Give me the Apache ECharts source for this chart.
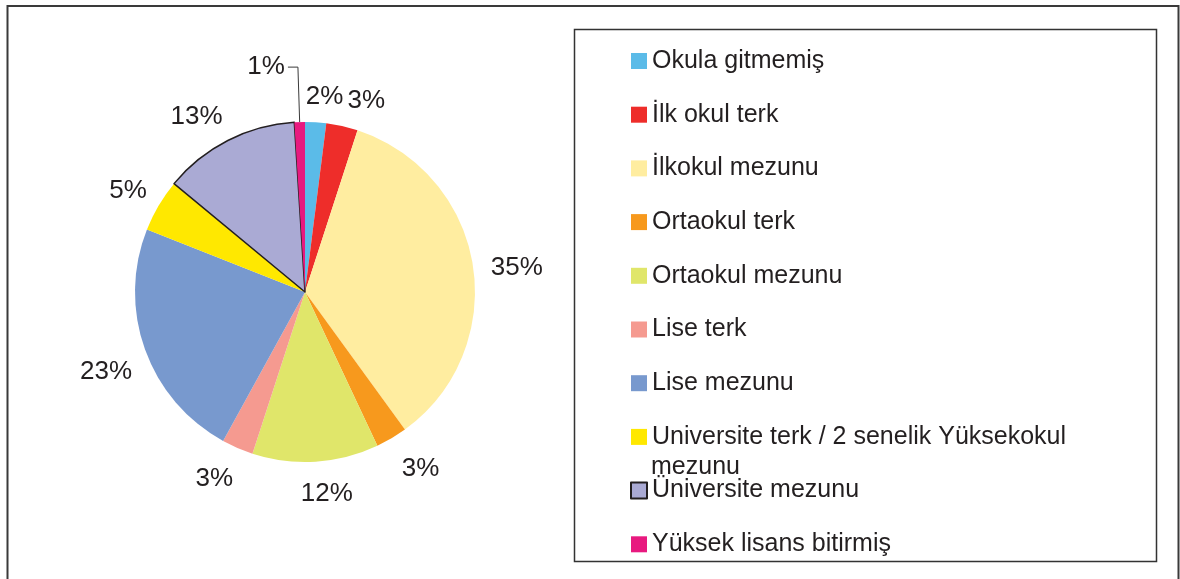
<!DOCTYPE html>
<html>
<head>
<meta charset="utf-8">
<title>Eğitim durumu</title>
<script src="https://cdn.jsdelivr.net/npm/echarts@6/dist/echarts.min.js"></script>
<style>
  html, body { margin: 0; padding: 0; background: #fff; }
  #main { width: 1180px; height: 579px; }
</style>
</head>
<body>
<div id="main"></div>
<script>
// egitim durumu dagilimi (%)
var categories = ['Okula gitmemiş', 'İlk okul terk', 'İlkokul mezunu', 'Ortaokul terk', 'Ortaokul mezunu',
    'Lise terk', 'Lise mezunu', 'Universite terk / 2 senelik Yüksekokul mezunu', 'Üniversite mezunu', 'Yüksek lisans bitirmiş'];
var values = [2, 3, 35, 3, 12, 3, 23, 5, 13, 1];
var colors = ['#5bbbe8', '#ee2d2a', '#ffeda0', '#f7991d', '#e0e66a', '#f59a90', '#7899ce', '#ffe800', '#aaaad4', '#e8197f'];

var CX = 305, CY = 292, R = 170;
var textColor = '#231f20';
var font = '"Liberation Sans", Arial, sans-serif';

function clamp(v) {
    return Math.max(-1, Math.min(1, v));
}

// etiketleri excel gibi yerlestir (kutu dilim yonunde disari kayar)
function excelLabel(p) {
    if (p.dataIndex === 9) return {};
    var r = p.labelRect;
    var ax = p.align === 'right' ? r.x + r.width : r.x;
    var ay = r.y + r.height / 2;
    var vx = ax - CX, vy = ay - CY;
    var d = Math.sqrt(vx * vx + vy * vy);
    var kx = clamp(5 * vx / d), ky = clamp(2.5 * (vy / d + 0.2));
    return {
        x: ax + kx * r.width / 2 + 2,
        y: ay + ky * r.height / 2 + 3.5,
        align: 'center',
        verticalAlign: 'middle'
    };
}

var pieData = [];
for (var i = 0; i < categories.length; i++) {
    var item = { name: categories[i], value: values[i], itemStyle: { color: colors[i] } };
    if (i === 8) {
        item.itemStyle.borderColor = '#231f20';
        item.itemStyle.borderWidth = 1.5;
    }
    if (i === 9) {
        item.label = { distanceToLabelLine: 3 };
        item.labelLine = { show: true, length: 55, length2: 10, lineStyle: { color: '#3a3a3a', width: 1 } };
    }
    pieData.push(item);
}

var chart = echarts.init(document.getElementById('main'));
var option = {
    animation: false,
    backgroundColor: '#fff',
    graphic: [{
        // dis cerceve
        type: 'rect',
        shape: { x: 7.5, y: 6, width: 1171, height: 640 },
        style: { fill: 'none', stroke: '#3a3a3a', lineWidth: 2 },
        silent: true
    }, {
        // lejant kutusu
        type: 'rect',
        shape: { x: 574.5, y: 29.5, width: 582, height: 532 },
        style: { fill: 'none', stroke: '#333', lineWidth: 1.5 },
        silent: true
    }, {
        // uzun lejant yazisinin ikinci satiri
        type: 'text',
        x: 651,
        y: 467,
        style: { text: 'mezunu', fill: textColor, font: '25px ' + font, verticalAlign: 'middle' },
        silent: true
    }],
    legend: {
        orient: 'vertical',
        left: 630,
        top: 46,
        padding: 0,
        icon: 'rect',
        itemWidth: 16,
        itemHeight: 16,
        itemGap: 23.7,
        selectedMode: false,
        data: categories,
        formatter: function (name) {
            return name.replace(' mezunu', name.indexOf('Yüksekokul') > 0 ? '' : ' mezunu');
        },
        textStyle: {
            color: textColor,
            fontFamily: font,
            fontSize: 25,
            lineHeight: 30
        }
    },
    series: [{
        type: 'pie',
        center: [CX, CY],
        radius: R,
        startAngle: 90,
        clockwise: true,
        avoidLabelOverlap: false,
        emphasis: { disabled: true },
        itemStyle: { borderWidth: 0 },
        label: {
            show: true,
            position: 'outside',
            distanceToLabelLine: 0,
            color: textColor,
            fontFamily: font,
            fontSize: 26,
            formatter: function (p) {
                return Math.round(p.percent) + '%';
            }
        },
        labelLine: { show: false, length: 16, length2: 0 },
        labelLayout: excelLabel,
        data: pieData
    }]
};
chart.setOption(option);
</script>
</body>
</html>
